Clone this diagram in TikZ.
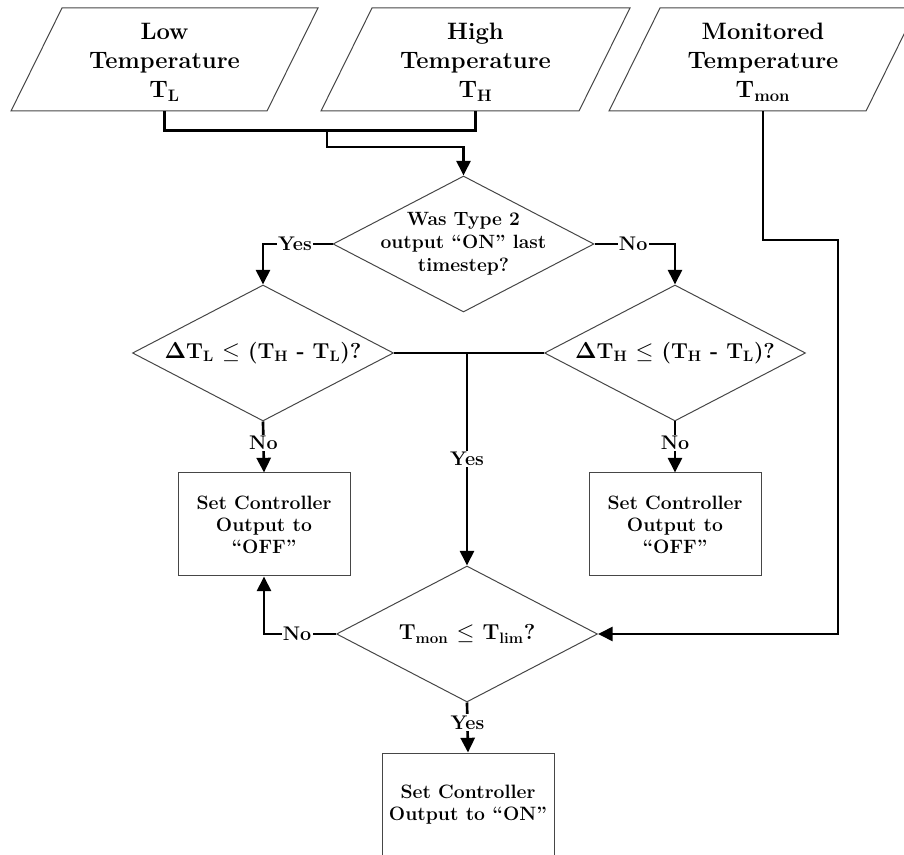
\documentclass[tikz,border=0pt]{standalone}
\usepackage{amsmath}
\usetikzlibrary{shapes.geometric,arrows.meta}

\definecolor{outline}{RGB}{70,70,70}

\tikzset{every picture/.style={line width=0.75pt}}
\tikzset{
	inbox/.style={minimum width=153.75pt, minimum height=73.5pt, inner sep=0pt, align=center, font=\fontsize{17.8}{22}\selectfont\bfseries},
	decision/.style={diamond, draw=outline, aspect=1.92, inner sep=-9pt, minimum width=195.75pt, minimum height=102pt, align=center, font=\fontsize{14.4}{17.2}\selectfont\bfseries},
	action/.style={rectangle, draw=outline, minimum width=129pt, minimum height=77.25pt, align=center, font=\fontsize{14.5}{16.5}\selectfont\bfseries},
	conn/.style={line width=2pt, black},
	flow/.style={conn, -{Triangle[length=11pt,width=10.5pt]}},
	lbl/.style={fill=white, inner sep=1pt, font=\fontsize{14.8}{17}\selectfont\bfseries},
	bigq/.style={font=\fontsize{16.2}{17}\selectfont\bfseries},
}

\begin{document}
\begin{tikzpicture}[x=0.75pt,y=0.75pt,yscale=-1,xscale=1]
	\useasboundingbox (0,0) rectangle (904,855);
	
	%Shape: Parallelogram 
	\draw [color=outline]  (62,8) -- (318,8) -- (267,111) -- (11,111) -- cycle ;
	%Shape: Parallelogram 
	\draw [color=outline]  (372,8) -- (630,8) -- (579,111) -- (321,111) -- cycle ;
	%Shape: Parallelogram 
	\draw [color=outline]  (660,8) -- (917,8) -- (866,111) -- (609,111) -- cycle ;
	
	% Text Node
	\node [inbox] (low) at (164.5,62) {Low\\Temperature\\T\textsubscript{L}};
	% Text Node
	\node [inbox] (high) at (475.5,62) {High\\Temperature\\T\textsubscript{H}};
	% Text Node
	\node [inbox] (mon) at (763,62) {Monitored\\Temperature\\T\textsubscript{mon}};
	
	%Decisions
	\node [decision] (wason) at (463.5,244) {Was Type 2\\output ``ON'' last\\timestep?};
	\node [decision, bigq] (chklow) at (263,353) {$\mathbf{\Delta}$T\textsubscript{L} $\leq$ (T\textsubscript{H} - T\textsubscript{L})?};
	\node [decision, bigq] (chkhigh) at (675,353) {$\mathbf{\Delta}$T\textsubscript{H} $\leq$ (T\textsubscript{H} - T\textsubscript{L})?};
	\node [decision, bigq] (chkmon) at (467,634) {T\textsubscript{mon} $\leq$ T\textsubscript{lim}?};
	
	%Actions
	\node [action] (offL) at (264,524.5) {Set Controller\\Output to\\``OFF''};
	\node [action] (offR) at (675,524.5) {Set Controller\\Output to\\``OFF''};
	\node [action] (on) at (468,804.5) {Set Controller\\Output to ``ON''};
	
	\coordinate (merge) at (327,130);
	\coordinate (bend) at (838,240);
	
	%Straight Lines 
	\draw [conn] (low.south) -- ++(0,19) -| (high.south) ;
	\draw [flow] (merge) -- ++(0,17) -| (wason.north) ;
	\draw [flow] (wason.west) -| node [lbl, pos=0.27] {Yes} (chklow.north) ;
	\draw [flow] (wason.east) -| node [lbl, pos=0.24] {No} (chkhigh.north) ;
	\draw [conn] (chklow.east) -- (chkhigh.west) ;
	\draw [flow] (chkmon.north |- chklow.east) -- node [lbl] {Yes} (chkmon.north) ;
	\draw [flow] (chklow.south) -- node [lbl, pos=0.42] {No} (offL.north) ;
	\draw [flow] (chkhigh.south) -- node [lbl, pos=0.42] {No} (offR.north) ;
	\draw [flow] (chkmon.west) -| node [lbl, pos=0.27] {No} (offL.south) ;
	\draw [flow] (mon.south) |- (bend) |- (chkmon.east) ;
	\draw [flow] (chkmon.south) -- node [lbl, pos=0.4] {Yes} (on.north) ;
	
\end{tikzpicture}
\end{document}
